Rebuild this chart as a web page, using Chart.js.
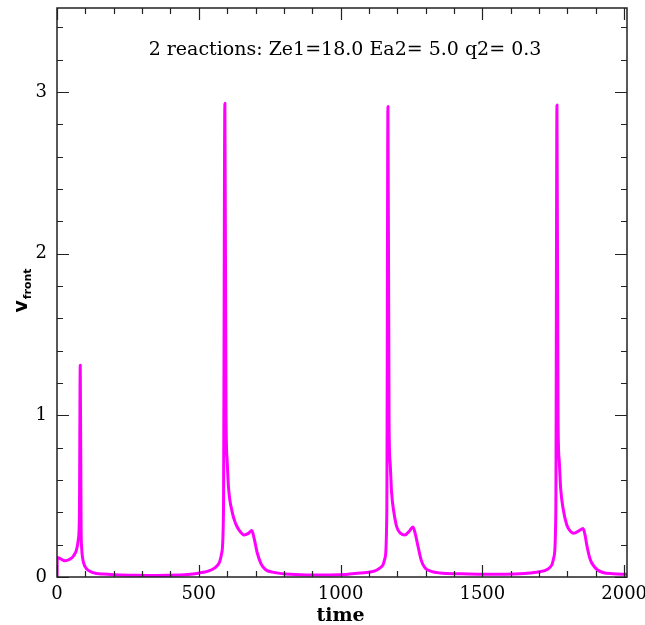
<!DOCTYPE html>
<html>
<head>
<meta charset="utf-8">
<script src="https://cdn.jsdelivr.net/npm/chart.js@4/dist/chart.umd.min.js"></script>
<style>
  html, body { margin: 0; padding: 0; background: #fff; }
  canvas { display: block; }
</style>
</head>
<body>
<canvas id="chart" width="645" height="625"></canvas>
<script>
// front speed vs time
const times = [0, 1, 10, 28, 45, 58, 69, 75, 79, 82, 85, 87, 90, 99, 116, 140, 162, 200, 268, 350, 432, 480, 502, 530, 555, 572, 581, 587, 592, 596, 600, 605, 618, 630, 642, 660, 675, 687, 695, 706, 720, 736, 760, 806, 880, 960, 1020, 1068, 1110, 1130, 1148, 1157, 1163, 1167, 1171, 1175, 1180, 1188, 1198, 1212, 1227, 1243, 1255, 1263, 1273, 1285, 1298, 1320, 1350, 1421, 1500, 1580, 1650, 1700, 1730, 1745, 1753, 1759, 1763, 1767, 1771, 1776, 1785, 1798, 1812, 1823, 1840, 1855, 1862, 1869, 1880, 1890, 1905, 1925, 1960, 2010];
const vfront = [0, 0.12, 0.115, 0.10, 0.11, 0.13, 0.17, 0.23, 0.38, 1.31, 0.3, 0.18, 0.12, 0.064, 0.035, 0.022, 0.018, 0.014, 0.011, 0.009, 0.012, 0.018, 0.025, 0.035, 0.055, 0.087, 0.15, 0.4, 2.93, 1.0, 0.72, 0.55, 0.40, 0.33, 0.29, 0.26, 0.27, 0.287, 0.24, 0.15, 0.08, 0.045, 0.03, 0.018, 0.013, 0.013, 0.016, 0.025, 0.032, 0.045, 0.07, 0.12, 0.4, 2.91, 0.95, 0.7, 0.52, 0.4, 0.31, 0.27, 0.26, 0.285, 0.31, 0.27, 0.19, 0.1, 0.056, 0.035, 0.025, 0.02, 0.017, 0.017, 0.022, 0.032, 0.048, 0.075, 0.13, 0.4, 2.92, 0.95, 0.72, 0.55, 0.42, 0.32, 0.28, 0.27, 0.285, 0.30, 0.26, 0.19, 0.11, 0.075, 0.045, 0.028, 0.02, 0.017];

const xTicks = [0, 500, 1000, 1500, 2000];
const yTicks = [0, 1, 2, 3];
const xMinorStep = 100;
const yMinorStep = 0.2;
const titleText = "2 reactions: Ze1=18.0 Ea2= 5.0 q2= 0.3";

const X_MAX = 2010, Y_MAX = 3.52;

// frame, inward ticks, labels
const framePlugin = {
  id: "frame",
  afterDraw(chart) {
    const { ctx, chartArea: a, scales: { x, y } } = chart;
    ctx.save();
    ctx.strokeStyle = "#222";
    ctx.lineWidth = 1.5;
    ctx.strokeRect(a.left, a.top, a.right - a.left, a.bottom - a.top);

    ctx.lineWidth = 1.2;
    ctx.beginPath();
    for (let t = 0; t <= X_MAX; t += xMinorStep) {
      const px = Math.round(x.getPixelForValue(t)) + 0.5;
      const len = t % 500 === 0 ? 12 : 6;
      ctx.moveTo(px, a.bottom); ctx.lineTo(px, a.bottom - len);
      ctx.moveTo(px, a.top); ctx.lineTo(px, a.top + len);
    }
    for (let i = 0; i * yMinorStep <= Y_MAX; i++) {
      const v = i * yMinorStep;
      const py = Math.round(y.getPixelForValue(v)) + 0.5;
      const len = i % 5 === 0 ? 12 : 6;
      ctx.moveTo(a.left, py); ctx.lineTo(a.left + len, py);
      ctx.moveTo(a.right, py); ctx.lineTo(a.right - len, py);
    }
    ctx.stroke();

    ctx.fillStyle = "#000";
    ctx.font = "18px 'DejaVu Serif'";
    ctx.textAlign = "center";
    ctx.textBaseline = "middle";
    xTicks.forEach(t => ctx.fillText(String(t), x.getPixelForValue(t), a.bottom + 17));
    ctx.textAlign = "right";
    yTicks.forEach(v => ctx.fillText(String(v), a.left - 10, y.getPixelForValue(v)));

    ctx.textAlign = "center";
    ctx.font = "19px 'DejaVu Serif'";
    ctx.fillText(titleText, 345, 50);

    ctx.font = "bold 19px 'DejaVu Serif'";
    ctx.fillText("time", x.getPixelForValue(1000), 616);

    // y title: v with subscript "front", rotated
    ctx.translate(27, 291);
    ctx.rotate(-Math.PI / 2);
    ctx.textAlign = "left";
    ctx.textBaseline = "alphabetic";
    ctx.font = "bold 19px 'DejaVu Sans'";
    const vw = ctx.measureText("v").width;
    const sub = "front";
    ctx.font = "bold 11px 'DejaVu Sans'";
    const sw = ctx.measureText(sub).width;
    const start = -(vw + sw) / 2;
    ctx.font = "bold 19px 'DejaVu Sans'";
    ctx.fillText("v", start, 0);
    ctx.font = "bold 11px 'DejaVu Sans'";
    ctx.fillText(sub, start + vw + 1, 4);
    ctx.restore();
  }
};

new Chart(document.getElementById("chart"), {
  type: "line",
  data: {
    datasets: [{
      data: times.map((t, i) => ({ x: t, y: vfront[i] })),
      borderColor: "#ff00ff",
      borderWidth: 3,
      borderJoinStyle: "round",
      borderCapStyle: "round",
      pointRadius: 0,
      cubicInterpolationMode: "monotone",
      fill: false
    }]
  },
  options: {
    responsive: false,
    animation: false,
    devicePixelRatio: 1,
    layout: { padding: { left: 57, right: 18, top: 8, bottom: 48 } },
    plugins: { legend: { display: false }, tooltip: { enabled: false } },
    scales: {
      x: { type: "linear", min: 0, max: X_MAX, display: false },
      y: { type: "linear", min: 0, max: Y_MAX, display: false }
    }
  },
  plugins: [framePlugin]
});
</script>
</body>
</html>
